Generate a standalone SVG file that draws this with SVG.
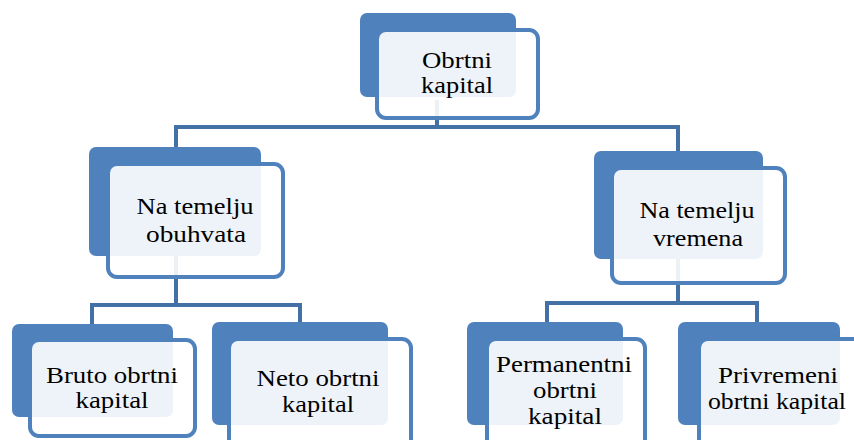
<svg xmlns="http://www.w3.org/2000/svg" width="854" height="440" viewBox="0 0 854 440">
<style>
.back{fill:#4F81BD}
.front{fill:#FFFFFF;fill-opacity:0.9;stroke:#4F81BD;stroke-width:4}
.conn{fill:none;stroke:#4370A5;stroke-width:4;stroke-linejoin:miter}
.t{font-family:'Liberation Serif','Times New Roman','DejaVu Serif',serif;font-size:23px;fill:#000000;text-anchor:middle}
</style>
<rect width="854" height="440" fill="#FFFFFF"/>
<g id="connectors">
<path class="conn" d="M437,100 V127 M176,147 V127 H678 V151"/>
<path class="conn" d="M176,256 V305 M92,324 V305 H300 V322"/>
<path class="conn" d="M678,259 V303 M547,322 V303 H757 V322"/>
</g>
<g id="node-obrtni">
<rect class="back" x="360" y="13" width="156" height="84" rx="7"/>
<rect class="front" x="377" y="30" width="161" height="88" rx="9"/>
<text class="t" x="457" y="68" textLength="70" lengthAdjust="spacingAndGlyphs">Obrtni</text>
<text class="t" x="457" y="93" textLength="72" lengthAdjust="spacingAndGlyphs">kapital</text>
</g>
<g id="node-obuhvata">
<rect class="back" x="89" y="147" width="172" height="109" rx="7"/>
<rect class="front" x="108" y="164" width="175" height="113" rx="9"/>
<text class="t" x="195" y="214" textLength="117" lengthAdjust="spacingAndGlyphs">Na temelju</text>
<text class="t" x="196" y="242" textLength="100" lengthAdjust="spacingAndGlyphs">obuhvata</text>
</g>
<g id="node-vremena">
<rect class="back" x="594" y="151" width="169" height="108" rx="7"/>
<rect class="front" x="612" y="168" width="173" height="115" rx="9"/>
<text class="t" x="697" y="218" textLength="115" lengthAdjust="spacingAndGlyphs">Na temelju</text>
<text class="t" x="698" y="246" textLength="90" lengthAdjust="spacingAndGlyphs">vremena</text>
</g>
<g id="node-bruto">
<rect class="back" x="12" y="324" width="161" height="93" rx="7"/>
<rect class="front" x="30" y="340" width="165" height="96" rx="9"/>
<text class="t" x="112" y="383" textLength="132" lengthAdjust="spacingAndGlyphs">Bruto obrtni</text>
<text class="t" x="112" y="408" textLength="73" lengthAdjust="spacingAndGlyphs">kapital</text>
</g>
<g id="node-neto">
<rect class="back" x="212" y="322" width="176" height="103" rx="7"/>
<rect class="front" x="229" y="339" width="182" height="110" rx="9"/>
<text class="t" x="318" y="386" textLength="123" lengthAdjust="spacingAndGlyphs">Neto obrtni</text>
<text class="t" x="318" y="412" textLength="72" lengthAdjust="spacingAndGlyphs">kapital</text>
</g>
<g id="node-permanentni">
<rect class="back" x="467" y="322" width="156" height="103" rx="7"/>
<rect class="front" x="487" y="339" width="158" height="110" rx="9"/>
<text class="t" x="564" y="372" textLength="136" lengthAdjust="spacingAndGlyphs">Permanentni</text>
<text class="t" x="565" y="398" textLength="64" lengthAdjust="spacingAndGlyphs">obrtni</text>
<text class="t" x="565" y="424" textLength="74" lengthAdjust="spacingAndGlyphs">kapital</text>
</g>
<g id="node-privremeni">
<rect class="back" x="678" y="322" width="162" height="103" rx="7"/>
<rect class="front" x="699" y="339" width="170" height="110" rx="9"/>
<text class="t" x="778" y="383" textLength="120" lengthAdjust="spacingAndGlyphs">Privremeni</text>
<text class="t" x="777" y="409" textLength="138" lengthAdjust="spacingAndGlyphs">obrtni kapital</text>
</g>
</svg>
